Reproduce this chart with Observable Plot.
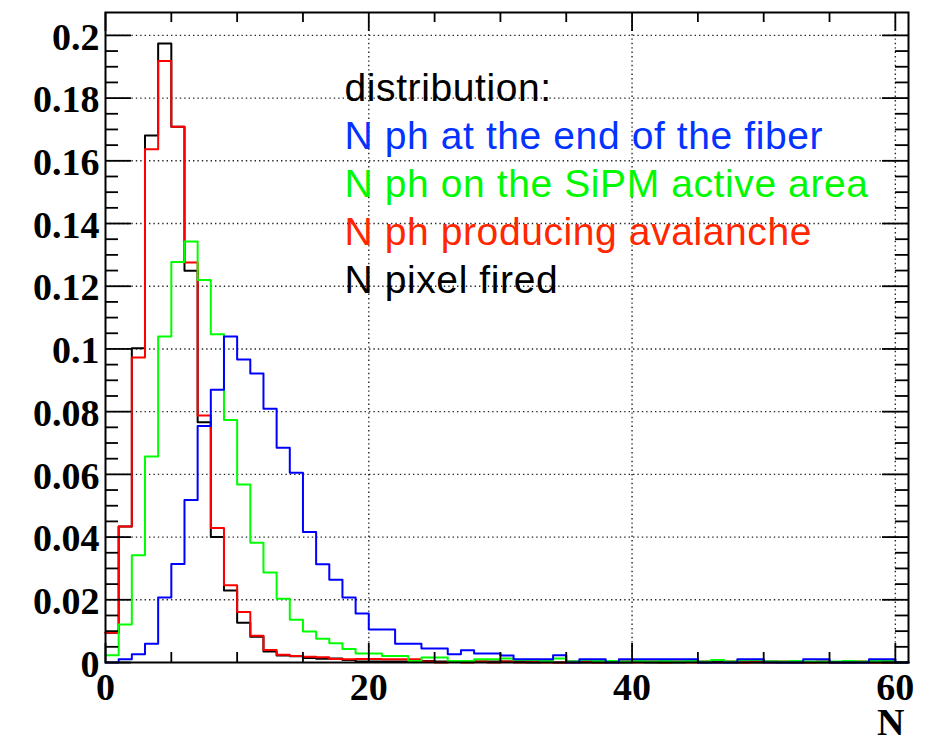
<!DOCTYPE html>
<html><head><meta charset="utf-8">
<script src="https://cdn.jsdelivr.net/npm/d3@7"></script>
<script src="https://cdn.jsdelivr.net/npm/@observablehq/plot@0.6"></script>
<style>body{margin:0;background:#fff;}#chart svg{display:block;}</style>
</head><body><div id="chart"></div>
<script>
// bin lower edges (bin width 1)
const binEdges = d3.range(0, 61);
const blueVals = [0,0.001,0.0026,0.006,0.0207,0.0314,0.0518,0.0754,0.087,0.104,
  0.0966,0.0922,0.0809,0.0685,0.0605,0.0416,0.0313,0.0264,0.0207,0.0156,
  0.0105,0.0105,0.006,0.006,0.0045,0.0045,0.0026,0.0039,0.0029,0.0029,
  0.0022,0.001,0.001,0.001,0.0023,0,0.001,0.001,0,0.001,
  0.001,0.001,0.001,0.001,0.001,0,0,0,0.001,0.001,
  0,0,0,0.001,0.001,0,0,0,0.001,0.001,0];
const greenVals = [0.0023,0.0121,0.0342,0.0657,0.104,0.1277,0.1343,0.122,0.1047,0.0773,
  0.0568,0.0382,0.0287,0.0203,0.0136,0.0099,0.0076,0.0061,0.0043,0.0029,
  0.0029,0.0021,0.0021,0.0005,0.0016,0.0016,0.0005,0.0005,0.001,0.001,
  0.0013,0.0008,0.0008,0.0005,0.0013,0.0003,0.0008,0.0005,0.0005,0.0003,
  0.0005,0.0003,0.0005,0.0003,0.0005,0.0003,0.0008,0.0003,0.0008,0.0008,
  0.0003,0.0003,0.0005,0.0003,0.0003,0.0003,0.0005,0.0003,0.0005,0.0005,0];
const redVals = [0.0095,0.0434,0.0973,0.1637,0.1918,0.1709,0.1276,0.0788,0.0429,0.0246,
  0.0161,0.0085,0.004,0.0025,0.0021,0.0018,0.0017,0.0011,0.001,0.0011,
  0.0011,0.001,0.001,0.001,0.0003,0,0.0003,0,0.0003,0,
  0.0003,0,0.0003,0,0,0,0.0003,0,0,0.0003,
  0,0.0003,0,0.0003,0,0.0003,0,0.0003,0,0.0003,
  0,0.0003,0,0,0.0003,0,0,0.0003,0,0,0];
const blackVals = [0.0095,0.0434,0.1002,0.1681,0.1974,0.1709,0.1249,0.0766,0.04,0.023,
  0.0127,0.0082,0.0035,0.0022,0.002,0.0014,0.0012,0.0013,0.0008,0.0003,
  0.0003,0.0003,0.0003,0.0003,0.0005,0.0003,0.0003,0.0005,0.0003,0.0003,
  0.0003,0.0003,0,0.0003,0,0.0003,0,0,0.0003,0,
  0.0003,0,0,0,0.0003,0,0.0003,0,0,0,
  0.0003,0,0,0,0,0,0,0,0,0,0];

const seriesNames = ["N pixel fired","N ph producing avalanche","N ph on the SiPM active area","N ph at the end of the fiber"];
const seriesColors = ["#000000","#ff0000","#00ff00","#0000ff"];
const seriesValues = [blackVals, redVals, greenVals, blueVals];

const xMajorTicks = [0, 20, 40, 60];
const xTickLabels = ["0", "20", "40", "60"];
const xMinorTicks = d3.range(0, 61, 5);
const yMajorTicks = [0,0.02,0.04,0.06,0.08,0.1,0.12,0.14,0.16,0.18,0.2];
const yTickLabels = ["0","0.02","0.04","0.06","0.08","0.1","0.12","0.14","0.16","0.18","0.2"];
const yMinorTicks = d3.range(0, 41).map(i => i * 0.005);
const xTitle = "N";

const legendLabels = ["distribution:","N ph at the end of the fiber","N ph on the SiPM active area","N ph producing avalanche","N pixel fired"];
const legendColors = ["#000000","#0433ff","#00f900","#ff2600","#000000"];

// layout
const W = 943, H = 742, ML = 105, MR = 35, MT = 12, MB = 80;
const xMax = 61, yMax = 0.2073;
const pxX = (W - ML - MR) / xMax;
const pxY = (H - MT - MB) / yMax;

const lineMarks = seriesValues.map((vals, k) => {
  const pts = binEdges.map((x, i) => ({x, y: vals[i]}));
  pts.push({x: binEdges[binEdges.length - 1] + 1, y: vals[vals.length - 1]});
  return Plot.line(pts, {x: "x", y: "y", curve: "step-after", stroke: seriesColors[k], strokeWidth: 2});
});

const gridStyle = {stroke: "black", strokeWidth: 1.4, strokeDasharray: "1.4,3", strokeOpacity: 0.85};
const tickStyle = {stroke: "black", strokeWidth: 1.8};
const serif = {fontFamily: "Liberation Serif, DejaVu Serif, serif", fontWeight: "bold", fontSize: 38, fill: "black"};

const yMajorSet = new Set(yMajorTicks.map(d => d.toFixed(3)));
const yMinorOnly = yMinorTicks.filter(d => !yMajorSet.has(d.toFixed(3)));
const xMinorOnly = xMinorTicks.filter(d => !xMajorTicks.includes(d));

const chart = Plot.plot({
  width: W, height: H,
  marginLeft: ML, marginRight: MR, marginTop: MT, marginBottom: MB,
  x: {domain: [0, xMax], axis: null},
  y: {domain: [0, yMax], axis: null},
  color: {type: "identity"},
  style: {background: "white", overflow: "visible"},
  marks: [
    Plot.ruleY(yMajorTicks.filter(d => d > 0), {...gridStyle}),
    Plot.ruleX(xMajorTicks.filter(d => d > 0), {...gridStyle}),
    ...lineMarks,
    // y ticks (left & right, inward)
    Plot.ruleY(yMajorTicks, {x1: () => 0, x2: () => 26 / pxX, ...tickStyle}),
    Plot.ruleY(yMinorOnly, {x1: () => 0, x2: () => 13 / pxX, ...tickStyle}),
    Plot.ruleY(yMajorTicks, {x1: () => xMax, x2: () => xMax - 26 / pxX, ...tickStyle}),
    Plot.ruleY(yMinorOnly, {x1: () => xMax, x2: () => xMax - 13 / pxX, ...tickStyle}),
    // x ticks (bottom & top, inward)
    Plot.ruleX(xMajorTicks, {y1: () => 0, y2: () => 19 / pxY, ...tickStyle}),
    Plot.ruleX(xMinorOnly, {y1: () => 0, y2: () => 10 / pxY, ...tickStyle}),
    Plot.ruleX(xMajorTicks, {y1: () => yMax, y2: () => yMax - 19 / pxY, ...tickStyle}),
    Plot.ruleX(xMinorOnly, {y1: () => yMax, y2: () => yMax - 10 / pxY, ...tickStyle}),
    Plot.frame({stroke: "black", strokeWidth: 2}),
    // tick labels
    Plot.text(yMajorTicks, {x: () => 0, y: d => d, text: (d, i) => yTickLabels[i], textAnchor: "end", lineAnchor: "middle", dx: -6, dy: 2, ...serif}),
    Plot.text(xMajorTicks, {x: d => d, y: () => 0, text: (d, i) => xTickLabels[i], textAnchor: "middle", lineAnchor: "middle", dy: 25, ...serif}),
    Plot.text([xTitle], {x: () => xMax, y: () => 0, text: d => d, textAnchor: "end", lineAnchor: "middle", dx: -4, dy: 60, ...serif}),
    // legend text
    ...legendLabels.map((t, i) => Plot.text([t], {
      frameAnchor: "top-left", text: d => d, textAnchor: "start", lineAnchor: "top",
      dx: 239, dy: 61 + i * 48, fill: legendColors[i],
      fontFamily: "Liberation Sans, Arial, sans-serif", fontSize: 39, fontWeight: "normal"
    }))
  ]
});
// slightly wider tracking for the legend lines (reference uses a wider light sans)
d3.select(chart).selectAll("text").filter(function() { return legendLabels.includes(this.textContent); })
  .style("letter-spacing", "0.6px");
document.getElementById("chart").appendChild(chart);
</script>
</body></html>
